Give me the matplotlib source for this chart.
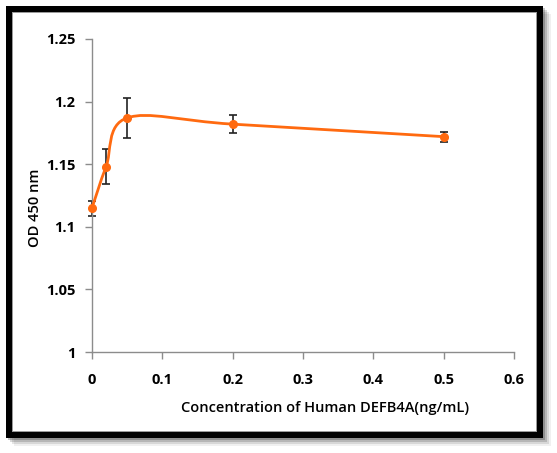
import matplotlib
matplotlib.use("Agg")
import matplotlib.pyplot as plt
from matplotlib.path import Path
from matplotlib.patches import PathPatch, Rectangle
import numpy as np

conc = [0, 0.02, 0.05, 0.2, 0.5]
od = [1.115, 1.148, 1.187, 1.182, 1.172]
err = [0.006, 0.014, 0.016, 0.007, 0.004]
xticks = [0, 0.1, 0.2, 0.3, 0.4, 0.5, 0.6]
yticks = [1, 1.05, 1.1, 1.15, 1.2, 1.25]
xticklabels = ["0", "0.1", "0.2", "0.3", "0.4", "0.5", "0.6"]
yticklabels = ["1", "1.05", "1.1", "1.15", "1.2", "1.25"]
xlabel = "Concentration of Human DEFB4A(ng/mL)"
ylabel = "OD 450 nm"

W, H = 557, 453
fig = plt.figure(figsize=(W/100, H/100), dpi=100)
plt.rcParams['font.family'] = ['Open Sans', 'DejaVu Sans']

def px(x0, y0, w, h):
    return (x0/W, 1 - (y0+h)/H, w/W, h/H)

# shadow
for i, a in enumerate([0.06, 0.10, 0.15, 0.22]):
    off = 8 - i*2
    x, y, w, h = px(6+off, 6+off, 537, 432)
    fig.patches.append(Rectangle((x, y), w, h, transform=fig.transFigure,
                                 facecolor='black', alpha=a, edgecolor='none', zorder=0))
x, y, w, h = px(6, 6, 537, 432)
fig.patches.append(Rectangle((x, y), w, h, transform=fig.transFigure,
                             facecolor='black', edgecolor='none', zorder=1))
x, y, w, h = px(12, 12, 525, 420)
fig.patches.append(Rectangle((x, y), w, h, transform=fig.transFigure,
                             facecolor='#9a9a9a', edgecolor='none', zorder=2))
x, y, w, h = px(13, 13, 523, 418)
fig.patches.append(Rectangle((x, y), w, h, transform=fig.transFigure,
                             facecolor='white', edgecolor='none', zorder=3))

ax = fig.add_axes(px(92, 39, 422, 313))
ax.set_facecolor('none')
ax.set_zorder(5)
ax.set_xlim(0, 0.6)
ax.set_ylim(1, 1.25)

# Excel-style smooth line (Catmull-Rom Bezier through the data points)
P = np.column_stack([conc, od])
verts = [tuple(P[0])]
codes = [Path.MOVETO]
n = len(P)
for i in range(n-1):
    p0 = P[i-1] if i > 0 else P[i]
    p3 = P[i+2] if i+2 < n else P[i+1]
    c1 = P[i] + (P[i+1] - p0)/6
    c2 = P[i+1] - (p3 - P[i])/6
    verts += [tuple(c1), tuple(c2), tuple(P[i+1])]
    codes += [Path.CURVE4]*3
color = '#FF6A10'
ax.add_patch(PathPatch(Path(verts, codes), facecolor='none', edgecolor=color,
                       lw=2.0, zorder=3, capstyle='round', clip_on=False))
eb = ax.errorbar(conc, od, yerr=err, fmt='none', ecolor='#222222', elinewidth=1.2,
                 capsize=3, capthick=1.2, zorder=2)
for art in eb.lines[1] + eb.lines[2]:
    art.set_clip_on(False)
for art in eb.lines[2]:
    art.set_clip_on(False)
ax.plot(conc, od, 'o', color=color, ms=5.5, zorder=4, clip_on=False)

for s in ['top', 'right']:
    ax.spines[s].set_visible(False)
for s in ['left', 'bottom']:
    ax.spines[s].set_color('#8c8c8c')
    ax.spines[s].set_linewidth(1.0)
ax.set_xticks(xticks)
ax.set_xticklabels(xticklabels)
ax.set_yticks(yticks)
ax.set_yticklabels(yticklabels)
ax.tick_params(axis='both', direction='out', length=5, color='#8c8c8c', width=1,
               labelsize=10.5, labelcolor='black')
ax.tick_params(axis='x', pad=10)
ax.tick_params(axis='y', pad=7)
for lab in ax.get_xticklabels() + ax.get_yticklabels():
    lab.set_fontweight('bold')

fig.text(325/W, 1 - 408/H, xlabel, ha='center', va='center', fontsize=10.5,
         fontweight='semibold')
fig.text(35/W, 1 - 208/H, ylabel, ha='center', va='center', rotation=90,
         fontsize=10.5, fontweight='semibold')

fig.savefig('out.png', dpi=100)
